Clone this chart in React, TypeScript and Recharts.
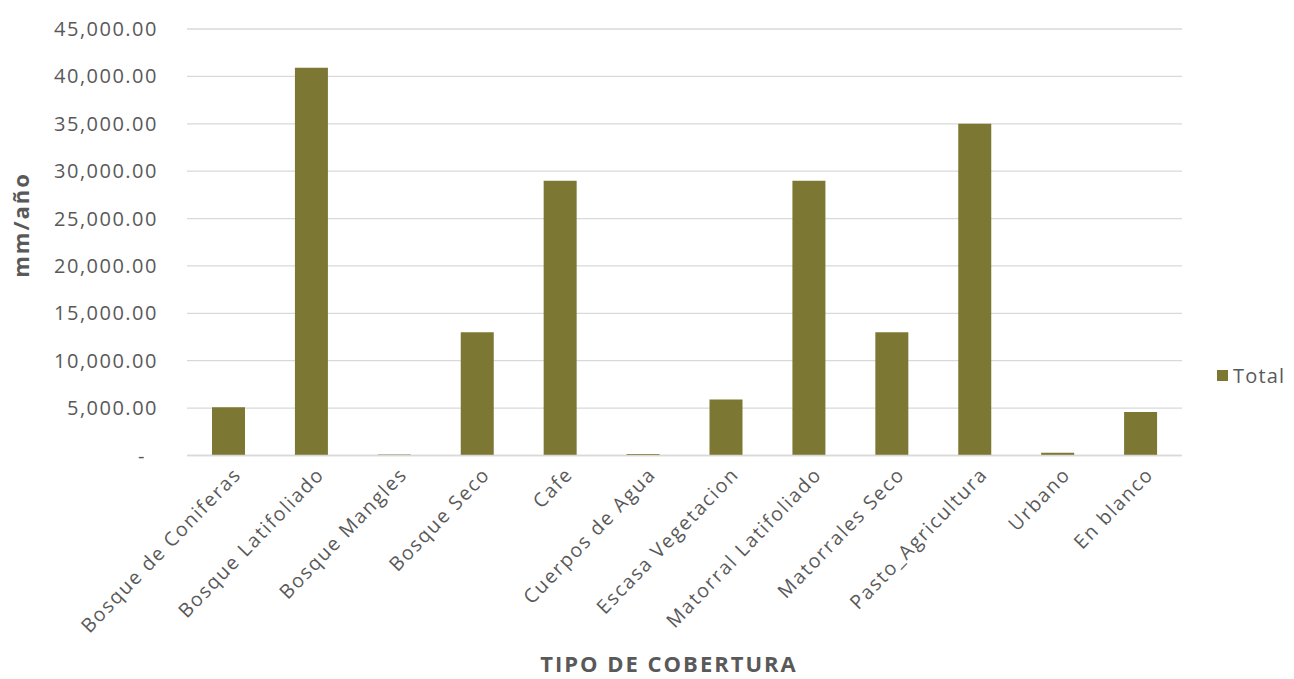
import React from 'react';
import { BarChart, Bar, XAxis, YAxis, CartesianGrid, Label } from 'recharts';

const categories = [
  'Bosque de Coniferas',
  'Bosque Latifoliado',
  'Bosque Mangles',
  'Bosque Seco',
  'Cafe',
  'Cuerpos de Agua',
  'Escasa Vegetacion',
  'Matorral Latifoliado',
  'Matorrales Seco',
  'Pasto_Agricultura',
  'Urbano',
  'En blanco',
];

const totals = [5100, 40900, 100, 13000, 29000, 150, 5900, 29000, 13000, 35000, 300, 4600];

const yTicks = [0, 5000, 10000, 15000, 20000, 25000, 30000, 35000, 40000, 45000];

const seriesName = 'Total';

const data = categories.map((name, i) => ({ name, Total: totals[i] }));

const FONT = '"Open Sans", "Liberation Sans", sans-serif';
const TEXT = '#595959';
const BAR = '#7c7833';

const fmt = (v: number) =>
  v === 0
    ? '-'
    : v.toLocaleString('en-US', { minimumFractionDigits: 2, maximumFractionDigits: 2 });

const YTick = (props: any) => {
  const { x, y, payload } = props;
  const zero = payload.value === 0;
  return (
    <text
      x={x + (zero ? -12 : 0)}
      y={y}
      dy={7}
      textAnchor="end"
      fill={TEXT}
      fontFamily={FONT}
      fontSize={20}
      letterSpacing={1.5}
    >
      {fmt(payload.value)}
    </text>
  );
};

const XTick = (props: any) => {
  const { x, y, payload } = props;
  return (
    <g transform={`translate(${x + 14},${y + 12})`}>
      <text
        x={0}
        y={0}
        textAnchor="end"
        transform="rotate(-46)"
        fill={TEXT}
        fontFamily={FONT}
        fontSize={19.5}
        letterSpacing={1.7}
      >
        {payload.value}
      </text>
    </g>
  );
};

export default function App() {
  return (
    <div style={{ position: 'absolute', left: 0, top: 0, width: 1294, height: 679, background: '#fff' }}>
      <BarChart
        width={1294}
        height={679}
        data={data}
        margin={{ top: 29, right: 112, bottom: 0, left: 0 }}
      >
        <CartesianGrid vertical={false} stroke="#d9d9d9" strokeWidth={1.3} />
        <XAxis
          dataKey="name"
          height={223.5}
          interval={0}
          tickLine={false}
          axisLine={{ stroke: '#d9d9d9', strokeWidth: 1.3 }}
          tick={<XTick />}
        >
          <Label
            content={() => (
              <text
                x={669}
                y={672}
                textAnchor="middle"
                fill={TEXT}
                fontFamily={FONT}
                fontWeight="bold"
                fontSize={22}
                letterSpacing={2}
              >
                TIPO DE COBERTURA
              </text>
            )}
          />
        </XAxis>
        <YAxis
          width={187}
          domain={[0, 45000]}
          ticks={yTicks}
          interval={0}
          axisLine={false}
          tickLine={false}
          tickSize={0}
          tickMargin={29}
          tick={<YTick />}
        >
          <Label
            content={() => (
              <text
                x={0}
                y={0}
                transform="translate(29,225) rotate(-90)"
                textAnchor="middle"
                fill={TEXT}
                fontFamily={FONT}
                fontWeight="bold"
                fontSize={22}
                letterSpacing={2}
              >
                mm/año
              </text>
            )}
          />
        </YAxis>
        <Bar dataKey="Total" name={seriesName} fill={BAR} barSize={33} isAnimationActive={false} />
      </BarChart>
      <div
        style={{
          position: 'absolute',
          left: 1217,
          top: 362,
          display: 'flex',
          alignItems: 'center',
          fontFamily: FONT,
          fontSize: 20,
          color: TEXT,
          letterSpacing: 1.2,
          whiteSpace: 'nowrap',
        }}
      >
        <span style={{ display: 'inline-block', width: 11, height: 11, background: BAR, marginRight: 5 }} />
        <span>{seriesName}</span>
      </div>
    </div>
  );
}
